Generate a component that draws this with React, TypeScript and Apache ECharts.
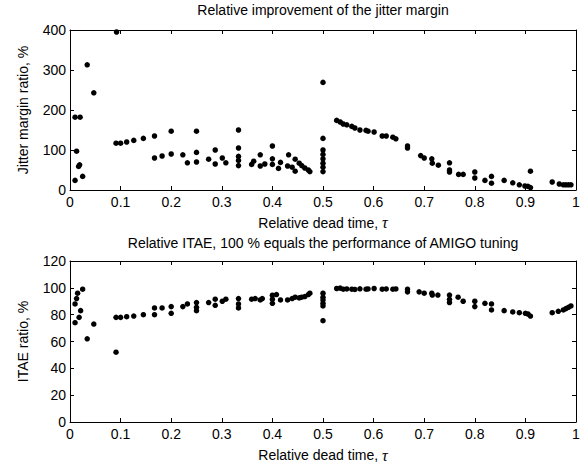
import React, { useEffect, useRef } from "react";
import * as echarts from "echarts";

// Upper plot: relative improvement of the jitter margin
const jitterTau = [
  0.010, 0.020, 0.013, 0.017, 0.019, 0.010, 0.025, 0.034, 0.047, 0.092,
  0.091, 0.100, 0.112, 0.126, 0.145, 0.167, 0.167, 0.182, 0.200, 0.200,
  0.223, 0.232, 0.250, 0.250, 0.250, 0.274, 0.287, 0.287, 0.301, 0.308,
  0.333, 0.333, 0.333, 0.333, 0.333, 0.359, 0.363, 0.376, 0.376, 0.385,
  0.400, 0.400, 0.400, 0.412, 0.416, 0.430, 0.432, 0.439, 0.445, 0.445,
  0.453, 0.458, 0.464, 0.471, 0.474, 0.500, 0.500, 0.500, 0.500, 0.500,
  0.500, 0.500, 0.500, 0.527, 0.534, 0.540, 0.547, 0.557, 0.563, 0.573,
  0.585, 0.589, 0.601, 0.617, 0.625, 0.638, 0.644, 0.667, 0.667, 0.693,
  0.700, 0.715, 0.716, 0.728, 0.750, 0.750, 0.750, 0.768, 0.777, 0.800,
  0.800, 0.820, 0.833, 0.833, 0.858, 0.875, 0.888, 0.899, 0.905, 0.910,
  0.910, 0.953, 0.967, 0.975, 0.980, 0.985, 0.990,
];
const jitterRatio = [
  182, 182, 97, 59, 63, 24, 34, 313, 243, 395,
  117, 117, 120, 124, 129, 135, 80, 85, 147, 90,
  88, 68, 147, 94, 70, 77, 100, 65, 80, 68,
  150, 105, 84, 74, 61, 64, 72, 88, 60, 65,
  110, 78, 64, 54, 69, 60, 88, 57, 77, 47,
  67, 61, 55, 50, 46, 269, 129, 100, 89, 78,
  67, 57, 46, 174, 170, 165, 163, 159, 155, 150,
  149, 147, 145, 135, 135, 132, 128, 110, 105, 86,
  80, 78, 67, 62, 68, 50, 45, 39, 39, 45,
  30, 24, 34, 17, 24, 18, 13, 10, 9, 47,
  6, 20, 15, 13, 13, 13, 13,
];

// Lower plot: relative ITAE
const itaeTau = [
  0.010, 0.010, 0.013, 0.015, 0.018, 0.021, 0.025, 0.034, 0.047, 0.091,
  0.091, 0.100, 0.112, 0.126, 0.145, 0.167, 0.167, 0.182, 0.200, 0.200,
  0.223, 0.232, 0.250, 0.250, 0.250, 0.274, 0.287, 0.287, 0.301, 0.308,
  0.333, 0.333, 0.333, 0.359, 0.366, 0.376, 0.380, 0.400, 0.400, 0.400,
  0.408, 0.416, 0.430, 0.439, 0.445, 0.453, 0.458, 0.464, 0.471, 0.474,
  0.500, 0.500, 0.500, 0.500, 0.500, 0.500, 0.527, 0.534, 0.540, 0.547,
  0.557, 0.563, 0.573, 0.585, 0.589, 0.601, 0.617, 0.625, 0.638, 0.644,
  0.667, 0.667, 0.690, 0.700, 0.715, 0.716, 0.727, 0.750, 0.750, 0.750,
  0.767, 0.777, 0.800, 0.800, 0.820, 0.833, 0.833, 0.858, 0.875, 0.888,
  0.900, 0.905, 0.910, 0.953, 0.965, 0.975, 0.980, 0.985, 0.990,
];
const itaeRatio = [
  74, 88, 92, 96, 78, 83, 99, 62, 73, 52,
  78, 78, 78.5, 79, 80, 85, 80, 85, 86, 81,
  86, 88, 89, 85.5, 83, 89, 91.5, 87, 90, 91.5,
  92, 88, 85, 91.5, 92, 91, 92, 94.5, 91.5, 88.5,
  95, 91, 91, 92, 93, 92.5, 93, 93.5, 95, 96,
  96, 93, 91, 88.5, 86.5, 75.5, 99.5, 99.8, 99, 99.2,
  99, 98.8, 99.3, 99, 99.2, 99.5, 99, 99.2, 99, 99.2,
  99, 97, 97, 96, 96, 94.6, 94.6, 94.6, 91.4, 89,
  93, 90, 90, 86, 88.5, 88, 83.5, 83, 82, 81.5,
  81, 80.5, 79, 81.5, 82.5, 83.5, 84.5, 85.5, 86.5,
];

const topTitle = "Relative improvement of the jitter margin";
const bottomTitle = "Relative ITAE, 100 % equals the performance of AMIGO tuning";
const xName = "Relative dead time, ";
const topYName = "Jitter margin ratio, %";
const bottomYName = "ITAE ratio, %";

const FONT = "Liberation Sans, Arial, Helvetica, sans-serif";

export default function App() {
  const ref = useRef<HTMLDivElement>(null);

  useEffect(() => {
    if (!ref.current) return;
    const chart = echarts.init(ref.current, undefined, { renderer: "svg" });

    const line = { color: "#000", width: 1 };
    const mkX = (grid: number, pos: "bottom" | "top") => ({
      type: "value",
      gridIndex: grid,
      position: pos,
      min: 0,
      max: 1,
      interval: 0.1,
      axisLine: { show: true, onZero: false, lineStyle: line },
      axisTick: { show: true, inside: true, length: 4, lineStyle: line },
      axisLabel: {
        show: pos === "bottom",
        color: "#000",
        fontSize: 14,
        fontFamily: FONT,
        margin: 5,
        formatter: (v: number) => String(+v.toFixed(1)),
      },
      splitLine: { show: false },
    });
    const mkY = (grid: number, pos: "left" | "right", max: number, interval: number) => ({
      type: "value",
      gridIndex: grid,
      position: pos,
      min: 0,
      max,
      interval,
      axisLine: { show: true, onZero: false, lineStyle: line },
      axisTick: { show: true, inside: true, length: 4, lineStyle: line },
      axisLabel: {
        show: pos === "left",
        color: "#000",
        fontSize: 14,
        fontFamily: FONT,
        margin: 4,
      },
      splitLine: { show: false },
    });

    const txt = (text: string, x: number, y: number, rotation = 0) => ({
      type: "text",
      x,
      y,
      rotation,
      style: {
        text,
        fill: "#000",
        font: `14px ${FONT}`,
        align: "center",
        verticalAlign: "middle",
      },
    });
    const xLabel = (y: number) => ({
      type: "text",
      x: 323,
      y,
      style: {
        text: xName + "{t|τ}",
        fill: "#000",
        font: `14px ${FONT}`,
        align: "center",
        verticalAlign: "middle",
        rich: {
          t: {
            fontFamily: "Liberation Serif, Times New Roman, serif",
            fontStyle: "italic",
            fontSize: 16,
            fill: "#000",
          },
        },
      },
    });

    chart.setOption({
      animation: false,
      backgroundColor: "#fff",
      grid: [
        { left: 70, top: 30, width: 506, height: 160, outerBoundsMode: "none", containLabel: false },
        { left: 70, top: 261, width: 506, height: 161, outerBoundsMode: "none", containLabel: false },
      ],
      xAxis: [mkX(0, "bottom"), mkX(0, "top"), mkX(1, "bottom"), mkX(1, "top")],
      yAxis: [
        mkY(0, "left", 400, 100),
        mkY(0, "right", 400, 100),
        mkY(1, "left", 120, 20),
        mkY(1, "right", 120, 20),
      ],
      series: [
        {
          type: "scatter",
          xAxisIndex: 0,
          yAxisIndex: 0,
          symbol: "circle",
          symbolSize: 5.5,
          itemStyle: { color: "#000", opacity: 1 },
          data: jitterTau.map((t, i) => [t, jitterRatio[i]]),
        },
        {
          type: "scatter",
          xAxisIndex: 2,
          yAxisIndex: 2,
          symbol: "circle",
          symbolSize: 5.5,
          itemStyle: { color: "#000", opacity: 1 },
          data: itaeTau.map((t, i) => [t, itaeRatio[i]]),
        },
      ],
      graphic: [
        txt(topTitle, 323, 10),
        txt(bottomTitle, 323, 243),
        xLabel(222.5),
        xLabel(455),
        txt(topYName, 23, 110, Math.PI / 2),
        txt(bottomYName, 23, 341.5, Math.PI / 2),
      ],
    });

    return () => chart.dispose();
  }, []);

  return (
    <div
      ref={ref}
      style={{ position: "absolute", left: 0, top: 0, width: 588, height: 468 }}
    />
  );
}
